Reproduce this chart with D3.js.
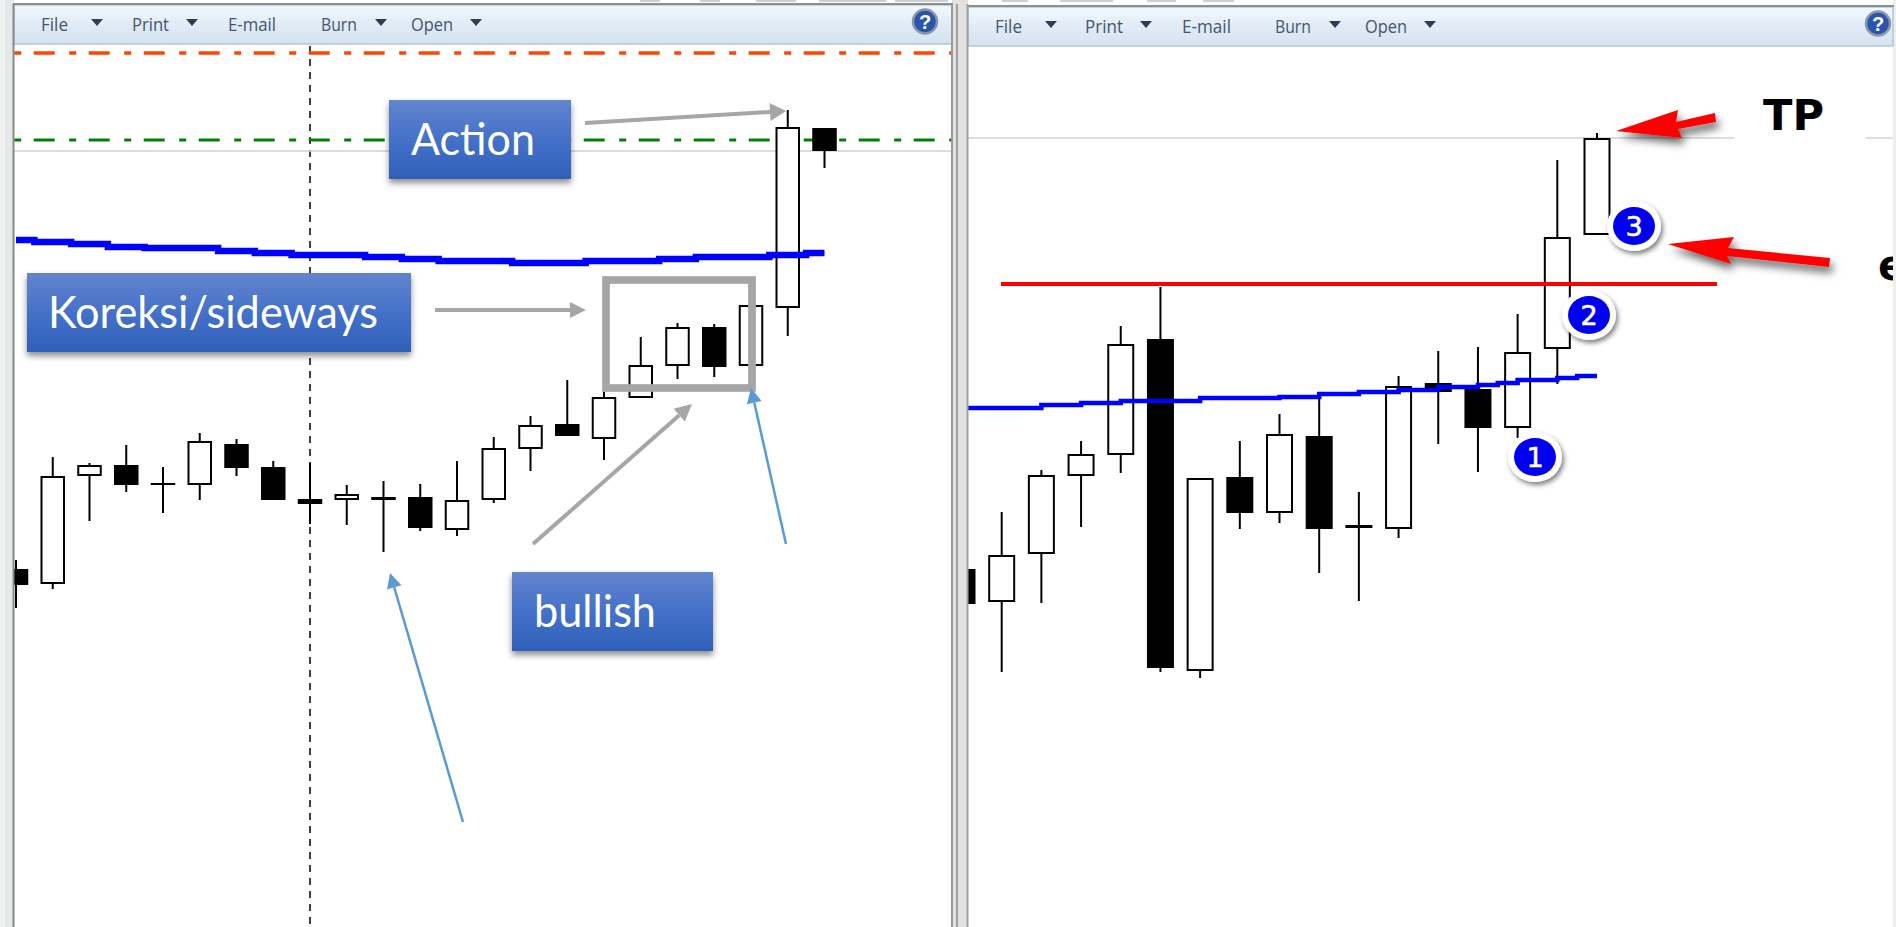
<!DOCTYPE html>
<html>
<head>
<meta charset="utf-8">
<title>Action chart</title>
<script src="https://cdnjs.cloudflare.com/ajax/libs/d3/7.8.5/d3.min.js"></script>
<style>
    html, body { margin: 0; padding: 0; background: #fff; overflow: hidden; }
    svg { display: block; }
</style>
</head>
<body>
<div id="chart"></div>
<script>
// Left chart, one entry per candle (arbitrary price units)
const leftOpen  = [358, 343, 451, 462, 443, 442, 483, 460, 428, 427, 430, 430, 397, 427, 478, 503, 488, 529, 561, 600, 561, 619, 799];
const leftClose = [342, 451, 462, 442, 443, 486, 459, 427, 423, 433, 427, 399, 427, 479, 502, 491, 530, 562, 600, 560, 622, 800, 776];
const leftHigh  = [367, 470, 464, 482, 460, 494, 488, 466, 464, 442, 446, 443, 466, 490, 511, 547, 535, 590, 604, 603, 622, 817, 799];
const leftLow   = [319, 338, 406, 435, 414, 427, 451, 427, 403, 402, 375, 396, 391, 424, 456, 491, 467, 529, 548, 550, 561, 591, 759];
const leftMA    = [687, 685, 683, 680, 679, 679, 676, 674, 672, 672, 670, 668, 666, 666, 664, 664, 666, 666, 668, 670, 670, 672, 674];

// Left chart horizontal levels
const leftOrangeLevel = 874;
const leftGreenLevel = 787;
const leftGreyLevel = 776;
const leftCursorIndex = 8;

// Right chart
const rightOpen  = [358, 325, 373, 451, 472, 588, 256, 450, 414, 491, 402, 398, 544, 538, 499, 578, 692];
const rightClose = [323, 372, 452, 473, 583, 259, 449, 414, 493, 398, 399, 541, 535, 499, 575, 690, 789];
const rightHigh  = [358, 415, 457, 486, 601, 640, 449, 486, 513, 534, 435, 551, 576, 580, 613, 767, 794];
const rightLow   = [323, 255, 324, 400, 454, 255, 249, 398, 404, 354, 326, 389, 483, 455, 489, 543, 692];
const rightMAIndex = [0, 2, 3, 4, 6, 8, 9, 10, 11, 12, 13, 13.5, 14, 15, 15.5, 16];
const rightMA      = [519, 522, 524, 526, 529, 530, 533, 535, 537, 540, 542, 544, 547, 549, 551, 551];

const rightRedLevel = 643;
const rightGreyLevel = 789;

const menuItems = ["File", "Print", "E-mail", "Burn", "Open"];

const W = 1896, H = 927;

const svg = d3.select("#chart").append("svg")
    .attr("width", W)
    .attr("height", H);

const defs = svg.append("defs");

// Gradients and shadows
function addGradient(id, stops) {
    let g = defs.append("linearGradient").attr("id", id)
        .attr("x1", 0).attr("y1", 0).attr("x2", 0).attr("y2", 1);
    stops.forEach(s => g.append("stop").attr("offset", s[0]).attr("stop-color", s[1]));
}
addGradient("boxFill", [[0, "#6385cd"], [0.5, "#4471c9"], [1, "#3060b8"]]);
addGradient("headerFill", [[0, "#f3f8fe"], [0.55, "#dfeaf5"], [1, "#d5e3f0"]]);

function addShadow(id, dx, dy, blur, opacity) {
    defs.append("filter").attr("id", id)
        .attr("x", "-30%").attr("y", "-40%").attr("width", "170%").attr("height", "220%")
        .append("feDropShadow")
        .attr("dx", dx).attr("dy", dy)
        .attr("stdDeviation", blur)
        .attr("flood-color", "#000")
        .attr("flood-opacity", opacity);
}
addShadow("boxShadow", 0, 4, 3, 0.45);
addShadow("arrowShadow", 3, 6, 4.5, 0.6);
addShadow("badgeShadow", 2, 3, 2.5, 0.5);

// Window background
svg.append("rect").attr("width", W).attr("height", H).attr("fill", "#fff");
svg.append("rect").attr("x", 0).attr("y", 0).attr("width", 14).attr("height", H).attr("fill", "#e6e9e9");
svg.append("rect").attr("x", 0).attr("y", 0).attr("width", 5).attr("height", H).attr("fill", "#eff2f1");
svg.append("rect").attr("x", 952).attr("y", 0).attr("width", 16).attr("height", H).attr("fill", "#e2e2e2");
svg.append("rect").attr("x", 1893).attr("y", 0).attr("width", 3).attr("height", H).attr("fill", "#eeeeee");

// Bottoms of a title cut off by the top edge
[[640, 660], [700, 720], [756, 796], [819, 886], [895, 948], [1002, 1028], [1060, 1113], [1147, 1176], [1203, 1234]]
    .forEach(d => {
        svg.append("rect").attr("x", d[0]).attr("y", 0)
            .attr("width", d[1] - d[0]).attr("height", 2)
            .attr("fill", "#cfcfcf");
    });

function drawPanel(panel) {
    let g = svg.append("g");

    defs.append("clipPath").attr("id", panel.id + "Clip")
        .append("rect")
        .attr("x", panel.left).attr("y", panel.headerBottom)
        .attr("width", panel.right - panel.left)
        .attr("height", H - panel.headerBottom);

    g.append("rect")
        .attr("x", panel.left).attr("y", panel.headerTop)
        .attr("width", panel.right - panel.left).attr("height", H - panel.headerTop)
        .attr("fill", "#fff");

    // Toolbar
    g.append("rect")
        .attr("x", panel.left).attr("y", panel.headerTop)
        .attr("width", panel.right - panel.left).attr("height", panel.headerBottom - panel.headerTop)
        .attr("fill", "url(#headerFill)")
        .attr("stroke", "#b4c6d6")
        .attr("stroke-width", 1.5);

    g.append("line")
        .attr("x1", panel.left - 1).attr("x2", panel.right + 1)
        .attr("y1", panel.headerTop - 1).attr("y2", panel.headerTop - 1)
        .attr("stroke", "#8f8f8f").attr("stroke-width", 2);

    let itemY = (panel.headerTop + panel.headerBottom) / 2 + 6.5;

    g.selectAll(".menu-item")
        .data(menuItems)
        .enter().append("text")
        .attr("class", "menu-item")
        .attr("x", (d, i) => panel.menuX[i][0])
        .attr("y", itemY)
        .attr("textLength", (d, i) => panel.menuX[i][1] - panel.menuX[i][0])
        .attr("lengthAdjust", "spacingAndGlyphs")
        .attr("font-family", "Open Sans")
        .attr("font-size", 18)
        .attr("fill", "#44566f")
        .text(d => d);

    g.selectAll(".menu-arrow")
        .data(panel.menuArrows)
        .enter().append("path")
        .attr("class", "menu-arrow")
        .attr("d", d => `M${d - 6},${itemY - 12}h12l-6,7z`)
        .attr("fill", "#2c3d55");

    let helpY = (panel.headerTop + panel.headerBottom) / 2 - 3;
    g.append("ellipse")
        .attr("cx", panel.helpX).attr("cy", helpY)
        .attr("rx", 12).attr("ry", 12)
        .attr("fill", "#2b55ad")
        .attr("stroke", "#8b96a6").attr("stroke-width", 2.5);
    g.append("text")
        .attr("x", panel.helpX).attr("y", helpY + 7)
        .attr("text-anchor", "middle")
        .attr("font-family", "Liberation Sans")
        .attr("font-weight", "bold")
        .attr("font-size", 20)
        .attr("fill", "#fff")
        .text("?");

    return g.append("g").attr("clip-path", `url(#${panel.id}Clip)`);
}

function drawCandles(plot, x, y, bodyWidth, open, close, high, low) {
    let inset = 1;
    let candles = plot.append("g").selectAll("g")
        .data(open.map((d, i) => ({ i: i, open: d, close: close[i], high: high[i], low: low[i] })))
        .enter().append("g");

    candles.append("line")
        .attr("x1", d => x(d.i)).attr("x2", d => x(d.i))
        .attr("y1", d => y(d.high)).attr("y2", d => y(d.low))
        .attr("stroke", "#000")
        .attr("stroke-width", 2);

    candles.append("rect")
        .attr("x", d => x(d.i) - bodyWidth / 2 + inset)
        .attr("width", bodyWidth - inset * 2)
        .attr("y", d => Math.min(y(Math.max(d.open, d.close)) + inset, (y(d.open) + y(d.close)) / 2))
        .attr("height", d => Math.max(0.01, Math.abs(y(d.open) - y(d.close)) - inset * 2))
        .attr("fill", d => d.close > d.open ? "#fff" : "#000")
        .attr("stroke", "#000")
        .attr("stroke-width", inset * 2);
}

// Block arrow made from a shaft and a triangular head
function blockArrow(parent, x1, y1, x2, y2, width, headLength, headWidth, color) {
    let angle = Math.atan2(y2 - y1, x2 - x1);
    let dx = Math.cos(angle), dy = Math.sin(angle);
    let baseX = x2 - dx * headLength, baseY = y2 - dy * headLength;

    parent.append("line")
        .attr("x1", x1).attr("y1", y1)
        .attr("x2", baseX).attr("y2", baseY)
        .attr("stroke", color)
        .attr("stroke-width", width);

    parent.append("path")
        .attr("d", `M${x2},${y2}L${baseX - dy * headWidth / 2},${baseY + dx * headWidth / 2}L${baseX + dy * headWidth / 2},${baseY - dx * headWidth / 2}Z`)
        .attr("fill", color);
}

function labelBox(parent, label, x0, y0, x1, y1, textX0, textX1, baseline) {
    parent.append("rect")
        .attr("x", x0).attr("y", y0)
        .attr("width", x1 - x0).attr("height", y1 - y0)
        .attr("fill", "url(#boxFill)")
        .attr("filter", "url(#boxShadow)");
    parent.append("text")
        .attr("x", textX0).attr("y", baseline)
        .attr("textLength", textX1 - textX0)
        .attr("lengthAdjust", "spacingAndGlyphs")
        .attr("font-family", "Lato")
        .attr("font-size", 44)
        .attr("fill", "#fff")
        .text(label);
}

function badge(parent, label, cx, cy) {
    parent.append("ellipse")
        .attr("cx", cx).attr("cy", cy)
        .attr("rx", 27).attr("ry", 25)
        .attr("fill", "#fff")
        .attr("filter", "url(#badgeShadow)");
    parent.append("ellipse")
        .attr("cx", cx).attr("cy", cy)
        .attr("rx", 21).attr("ry", 19)
        .attr("fill", "#0000f0");
    parent.append("text")
        .attr("x", cx).attr("y", cy + 10)
        .attr("text-anchor", "middle")
        .attr("font-family", "DejaVu Sans")
        .attr("font-size", 27)
        .attr("fill", "#fff")
        .attr("stroke", "#fff")
        .attr("stroke-width", 0.6)
        .text(label);
}

// Left chart
const leftPlot = drawPanel({
    id: "left", left: 14, right: 952, headerTop: 5, headerBottom: 44,
    menuX: [[41, 68], [132, 169], [228, 276], [321, 357], [411, 453]],
    menuArrows: [97, 192, 381, 476],
    helpX: 925
});

const xLeft = d3.scaleLinear().domain([0, 22]).range([16, 824.5]);
const yPrice = d3.scaleLinear().domain([0, H]).range([H, 0]);

leftPlot.append("line")
    .attr("x1", xLeft(leftCursorIndex)).attr("x2", xLeft(leftCursorIndex))
    .attr("y1", 46).attr("y2", H)
    .attr("stroke", "#000").attr("stroke-width", 1.5)
    .attr("stroke-dasharray", "7,6");

leftPlot.append("line")
    .attr("x1", 14).attr("x2", 952)
    .attr("y1", yPrice(leftGreyLevel)).attr("y2", yPrice(leftGreyLevel))
    .attr("stroke", "#d2d2d2").attr("stroke-width", 1.5);

[[leftOrangeLevel, "#ff4500", 3.5], [leftGreenLevel, "#008000", 3]].forEach(d => {
    leftPlot.append("line")
        .attr("x1", 14).attr("x2", 952)
        .attr("y1", yPrice(d[0])).attr("y2", yPrice(d[0]))
        .attr("stroke", d[1]).attr("stroke-width", d[2])
        .attr("stroke-dasharray", "21,14.5,7,12.5")
        .attr("stroke-dashoffset", 35.3);
});

drawCandles(leftPlot, xLeft, yPrice, 24.5, leftOpen, leftClose, leftHigh, leftLow);

leftPlot.append("path")
    .datum(leftMA)
    .attr("d", d3.line().x((d, i) => xLeft(i)).y(d => yPrice(d)).curve(d3.curveStep))
    .attr("fill", "none")
    .attr("stroke", "#0000ff")
    .attr("stroke-width", 6.5);

// Sideways box
svg.append("rect")
    .attr("x", 606).attr("y", 280)
    .attr("width", 146).attr("height", 108)
    .attr("fill", "none")
    .attr("stroke", "#a6a6a6")
    .attr("stroke-width", 7.7);

// Annotations on the left chart
blockArrow(svg, 585, 123, 786, 111, 4, 16, 18, "#a6a6a6");
blockArrow(svg, 435, 310, 586, 310, 4, 16, 16, "#a6a6a6");
blockArrow(svg, 533, 544, 692, 404, 4, 17, 17, "#a6a6a6");
blockArrow(svg, 463, 822, 390, 573, 2.5, 15, 15, "#5b9bd5");
blockArrow(svg, 786, 544, 751, 388, 2.5, 15, 15, "#5b9bd5");

labelBox(svg, "Action", 389, 100, 571, 179, 411, 535, 155);
labelBox(svg, "Koreksi/sideways", 27, 273, 411, 352, 48, 378, 328);
labelBox(svg, "bullish", 512, 572, 713, 651, 534, 656, 627);

// Right chart
const rightPlot = drawPanel({
    id: "right", left: 968, right: 1893, headerTop: 7, headerBottom: 46,
    menuX: [[995, 1022], [1085, 1123], [1182, 1231], [1275, 1311], [1365, 1407]],
    menuArrows: [1051, 1146, 1335, 1430],
    helpX: 1878
});

const xRight = d3.scaleLinear().domain([0, 16]).range([962, 1597]);

rightPlot.append("line")
    .attr("x1", 968).attr("x2", 1893)
    .attr("y1", yPrice(rightGreyLevel)).attr("y2", yPrice(rightGreyLevel))
    .attr("stroke", "#bdbdbd").attr("stroke-width", 1.2);

drawCandles(rightPlot, xRight, yPrice, 27, rightOpen, rightClose, rightHigh, rightLow);

rightPlot.append("path")
    .datum(rightMA)
    .attr("d", d3.line().x((d, i) => xRight(rightMAIndex[i])).y(d => yPrice(d)).curve(d3.curveStepAfter))
    .attr("fill", "none")
    .attr("stroke", "#0000ff")
    .attr("stroke-width", 4.5);

rightPlot.append("line")
    .attr("x1", 1001).attr("x2", 1717)
    .attr("y1", yPrice(rightRedLevel)).attr("y2", yPrice(rightRedLevel))
    .attr("stroke", "#ff0000").attr("stroke-width", 4);

// Annotations on the right chart
svg.append("path")
    .attr("d", "M1616,131L1678,110L1676,122L1715,113L1716,122L1678,129L1682,138Z")
    .attr("fill", "#ff0000")
    .attr("filter", "url(#arrowShadow)");
svg.append("path")
    .attr("d", "M1668,244L1734,237L1728,248L1830,258L1829,267L1727,256L1731,264Z")
    .attr("fill", "#ff0000")
    .attr("filter", "url(#arrowShadow)");

svg.append("rect").attr("x", 1734).attr("y", 92).attr("width", 132).attr("height", 48).attr("fill", "#fff");
svg.append("text")
    .attr("x", 1763).attr("y", 130)
    .attr("textLength", 61)
    .attr("lengthAdjust", "spacingAndGlyphs")
    .attr("font-family", "DejaVu Sans")
    .attr("font-weight", "bold")
    .attr("font-size", 42)
    .attr("fill", "#000")
    .text("TP");

rightPlot.append("text")
    .attr("x", 1878).attr("y", 280)
    .attr("font-family", "DejaVu Sans")
    .attr("font-weight", "bold")
    .attr("font-size", 42)
    .attr("fill", "#000")
    .text("e");

badge(svg, "1", 1535, 457);
badge(svg, "2", 1589, 315);
badge(svg, "3", 1634, 226);

// Panel frame lines
[[13.5, "#8a8a8a", 2], [952, "#9a9a9a", 2], [957, "#8a8a8a", 1.5], [967.5, "#a0a0a0", 2]].forEach(d => {
    svg.append("line")
        .attr("x1", d[0]).attr("x2", d[0])
        .attr("y1", 4).attr("y2", H)
        .attr("stroke", d[1]).attr("stroke-width", d[2]);
});
</script>
</body>
</html>
